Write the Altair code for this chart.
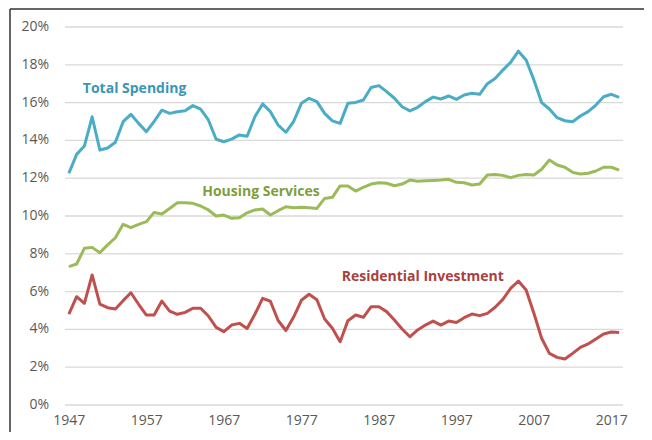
import altair as alt
import pandas as pd

years = list(range(1947, 2019))

total_spending = [
    12.26, 13.26, 13.70, 15.25, 13.49, 13.60, 13.90, 14.99, 15.38, 14.90,
    14.46, 15.00, 15.60, 15.43, 15.52, 15.57, 15.84, 15.66, 15.08, 14.06,
    13.93, 14.07, 14.29, 14.22, 15.25, 15.93, 15.52, 14.81, 14.43, 15.00,
    15.96, 16.23, 16.05, 15.43, 15.03, 14.90, 15.96, 16.01, 16.14, 16.80,
    16.90, 16.58, 16.23, 15.78, 15.56, 15.75, 16.05, 16.29, 16.19, 16.35,
    16.17, 16.40, 16.49, 16.44, 17.00, 17.28, 17.72, 18.13, 18.72, 18.25,
    17.20, 16.00, 15.66, 15.20, 15.04, 14.99, 15.29, 15.52, 15.87, 16.31,
    16.44, 16.28,
]

housing_services = [
    7.32, 7.46, 8.29, 8.34, 8.06, 8.47, 8.85, 9.56, 9.38, 9.56,
    9.70, 10.19, 10.11, 10.40, 10.70, 10.70, 10.67, 10.53, 10.32, 10.00,
    10.05, 9.88, 9.91, 10.17, 10.32, 10.37, 10.05, 10.28, 10.49, 10.44,
    10.46, 10.44, 10.40, 10.93, 10.99, 11.59, 11.59, 11.32, 11.52, 11.69,
    11.76, 11.73, 11.60, 11.69, 11.90, 11.84, 11.86, 11.88, 11.90, 11.94,
    11.78, 11.76, 11.64, 11.69, 12.17, 12.20, 12.15, 12.03, 12.15, 12.20,
    12.17, 12.47, 12.96, 12.70, 12.58, 12.31, 12.22, 12.26, 12.38, 12.58,
    12.58, 12.43,
]

residential_investment = [
    4.81, 5.73, 5.38, 6.88, 5.34, 5.15, 5.08, 5.52, 5.94, 5.33,
    4.76, 4.76, 5.50, 4.97, 4.80, 4.90, 5.12, 5.12, 4.71, 4.11,
    3.88, 4.23, 4.32, 4.05, 4.80, 5.64, 5.49, 4.47, 3.94, 4.65,
    5.54, 5.86, 5.57, 4.55, 4.06, 3.35, 4.46, 4.76, 4.64, 5.20,
    5.20, 4.94, 4.50, 4.02, 3.61, 3.97, 4.23, 4.44, 4.23, 4.44,
    4.37, 4.62, 4.81, 4.73, 4.85, 5.17, 5.59, 6.17, 6.56, 6.08,
    4.85, 3.53, 2.73, 2.52, 2.43, 2.73, 3.05, 3.23, 3.49, 3.76,
    3.86, 3.83,
]

series_names = ["Total Spending", "Housing Services", "Residential Investment"]
line_colors = ["#4BACC6", "#9BBB59", "#C0504D"]
text_colors = ["#3A96B4", "#7E9E3E", "#A8403D"]

x_ticks = [1947, 1957, 1967, 1977, 1987, 1997, 2007, 2017]
y_ticks = [0, 2, 4, 6, 8, 10, 12, 14, 16, 18, 20]
y_tick_labels = ["0%", "2%", "4%", "6%", "8%", "10%", "12%", "14%", "16%", "18%", "20%"]

# label anchor points (year, value) for series names
label_years = [1948.8, 1964.2, 1982.2]
label_values = [16.72, 11.27, 6.77]

rows = []
for name, vals in zip(series_names, [total_spending, housing_services, residential_investment]):
    for yr, v in zip(years, vals):
        rows.append({"year": yr, "value": v, "series": name})
df = pd.DataFrame(rows)

labels_df = pd.DataFrame({
    "year": label_years,
    "value": label_values,
    "series": series_names,
})
grid_df = pd.DataFrame({"value": y_ticks, "label": y_tick_labels})

x_scale = alt.Scale(domain=[1946.5, 2018.5], nice=False, zero=False)
y_scale = alt.Scale(domain=[0, 20], nice=False)

x_axis = alt.Axis(values=x_ticks, format="d", title=None, grid=False,
                  domain=False, ticks=False, labelPadding=8,
                  labelFontSize=14, labelColor="#595959",
                  labelFont="Open Sans", labelOverlap=False)

grid = alt.Chart(grid_df).mark_rule(color="#D9D9D9", strokeWidth=1.3).encode(
    y=alt.Y("value:Q", scale=y_scale, axis=None),
    x=alt.value(0), x2=alt.value(558),
)

y_labels = alt.Chart(grid_df).mark_text(
    align="right", baseline="middle", fontSize=14, font="Open Sans", color="#595959"
).encode(
    y=alt.Y("value:Q", scale=y_scale, axis=None),
    x=alt.value(-16),
    text="label:N",
)

lines = alt.Chart(df).mark_line(strokeWidth=3, strokeJoin="round").encode(
    x=alt.X("year:Q", scale=x_scale, axis=x_axis),
    y=alt.Y("value:Q", scale=y_scale, axis=None),
    color=alt.Color("series:N", scale=alt.Scale(domain=series_names, range=line_colors),
                    legend=None),
)

texts = alt.Chart(labels_df).mark_text(
    align="left", baseline="middle", fontSize=14, fontWeight="bold", font="Open Sans"
).encode(
    x=alt.X("year:Q", scale=x_scale, axis=x_axis),
    y=alt.Y("value:Q", scale=y_scale, axis=None),
    text="series:N",
    color=alt.Color("series:N", scale=alt.Scale(domain=series_names, range=text_colors),
                    legend=None),
)

frame_top = alt.Chart(pd.DataFrame({"a": [0]})).mark_rule(color="#333333", strokeWidth=1.5).encode(
    x=alt.value(-55), x2=alt.value(620), y=alt.value(-18)
)
frame_left = alt.Chart(pd.DataFrame({"a": [0]})).mark_rule(color="#333333", strokeWidth=1.5).encode(
    x=alt.value(-55), y=alt.value(-18), y2=alt.value(440)
)

chart = alt.layer(grid, y_labels, lines, texts, frame_top, frame_left).resolve_scale(
    color="independent"
).properties(
    width=558, height=378,
    autosize=alt.AutoSizeParams(type="none"),
    padding={"left": 57, "top": 19, "right": 21, "bottom": 27},
).configure_view(stroke=None)

chart.save("out.html", embed_options={"renderer": "svg", "actions": False})
